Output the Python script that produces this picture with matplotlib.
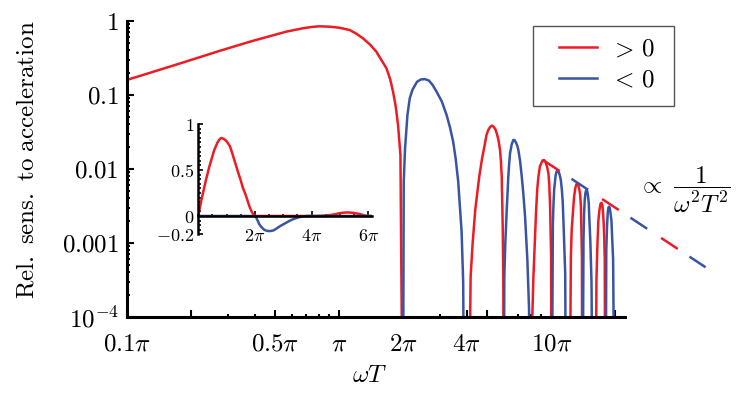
import matplotlib
matplotlib.use('Agg')
import matplotlib.pyplot as plt
from matplotlib.patches import Rectangle
from matplotlib.ticker import FixedLocator, FixedFormatter, NullFormatter, LogLocator, MultipleLocator

plt.rcParams['mathtext.fontset'] = 'cm'
plt.rcParams['font.family'] = 'serif'
plt.rcParams['lines.scale_dashes'] = False

RED = '#ED1C24'
BLUE = '#3A54A4'

# omega*T in units of pi, |relative sensitivity|
# (1e-6 marks a zero crossing, below the axis)
x1 = [0.1, 0.133, 0.189, 0.272, 0.390, 0.563, 0.674, 0.74, 0.808, 0.902, 1.0, 1.121, 1.2, 1.296,
      1.4, 1.499, 1.58, 1.672, 1.74, 1.797, 1.85, 1.897, 1.947, 2.0]
y1 = [0.160, 0.206, 0.282, 0.393, 0.537, 0.717, 0.797, 0.83, 0.848, 0.838, 0.812, 0.756, 0.68, 0.584,
      0.48, 0.385, 0.30, 0.230, 0.165, 0.111, 0.07, 0.0393, 0.0155, 1e-6]
x2 = [2.0, 2.018, 2.047, 2.101, 2.154, 2.22, 2.332, 2.43, 2.537, 2.65, 2.76, 2.882, 3.05, 3.214,
      3.33, 3.452, 3.55, 3.646, 3.783, 3.848, 3.9]
y2 = [1e-6, 0.00673, 0.0190, 0.0537, 0.0902, 0.118, 0.151, 0.162, 0.164, 0.157, 0.137, 0.111, 0.082, 0.0537,
      0.037, 0.0234, 0.0135, 0.00673, 0.00142, 0.0003, 1e-6]
x3 = [4.08, 4.172, 4.264, 4.386, 4.581, 4.72, 4.875, 4.96, 5.05, 5.15, 5.244, 5.31, 5.38, 5.46, 5.538,
      5.64, 5.741, 5.8, 5.848, 5.911, 5.95, 5.97]
y3 = [1e-6, 0.00035, 0.00099, 0.00279, 0.00787, 0.0137, 0.0222, 0.029, 0.0336, 0.0367, 0.0385, 0.0381,
      0.0366, 0.0344, 0.0304, 0.025, 0.0181, 0.0125, 0.00787, 0.00166, 0.00035, 1e-6]
x4 = [5.97, 6.015, 6.08, 6.173, 6.282, 6.34, 6.40, 6.52, 6.633, 6.73, 6.83, 6.92, 7.005, 7.14, 7.27,
      7.4, 7.536, 7.726, 7.87, 7.92]
y4 = [1e-6, 0.00035, 0.00099, 0.00279, 0.00787, 0.0118, 0.0163, 0.0216, 0.0247, 0.0245, 0.0227, 0.0207,
      0.0181, 0.0128, 0.00787, 0.0045, 0.00227, 0.00059, 0.000126, 1e-6]
x5 = [8.04, 8.15, 8.25, 8.497, 8.6, 8.71, 8.85, 9.0, 9.13, 9.267, 9.4, 9.5, 9.6, 9.71, 9.8, 9.89, 10.0, 10.05]
y5 = [1e-6, 0.0001, 0.00035, 0.00279, 0.0053, 0.00787, 0.0108, 0.0121, 0.0131, 0.0132, 0.0125, 0.0114,
      0.0103, 0.00875, 0.0062, 0.00310, 0.00065, 1e-6]
x6 = [10.05, 10.19, 10.26, 10.33, 10.5, 10.6, 10.71, 10.83, 10.95, 11.1, 11.24, 11.34, 11.44, 11.65, 11.78]
y6 = [1e-6, 0.00185, 0.0034, 0.0052, 0.0082, 0.0092, 0.00948, 0.0093, 0.0085, 0.0072, 0.0052, 0.0036,
      0.00185, 0.00039, 1e-6]
x7 = [12.2, 12.39, 12.5, 12.66, 12.83, 13.0, 13.15, 13.32, 13.45, 13.6, 13.72, 13.82, 13.97, 14.02]
y7 = [1e-6, 0.00065, 0.0015, 0.00252, 0.0042, 0.0055, 0.0062, 0.00627, 0.0060, 0.0052, 0.0043, 0.0031,
      0.00065, 1e-6]
x8 = [14.05, 14.21, 14.3, 14.4, 14.52, 14.64, 14.77, 14.9, 15.04, 15.17, 15.3, 15.5, 15.75]
y8 = [1e-6, 0.0011, 0.0025, 0.0038, 0.0048, 0.0052, 0.0051, 0.0045, 0.0035, 0.00185, 0.0011, 0.0003, 1e-6]
x9 = [16.2, 16.35, 16.5, 16.7, 16.9, 17.1, 17.29, 17.45, 17.6, 17.7, 17.81, 17.9, 18.0]
y9 = [1e-6, 0.0003, 0.00081, 0.002, 0.0028, 0.0034, 0.0035, 0.0032, 0.0024, 0.0018, 0.0011, 0.0006, 1e-6]
x10 = [18.05, 18.2, 18.35, 18.5, 18.62, 18.74, 18.9, 19.1, 19.25, 19.42, 19.6, 19.96]
y10 = [1e-6, 0.0008, 0.0017, 0.0026, 0.003, 0.0031, 0.003, 0.0024, 0.002, 0.0011, 0.0006, 1e-6]

pos_lobes = [(x1, y1), (x3, y3), (x5, y5), (x7, y7), (x9, y9)]
neg_lobes = [(x2, y2), (x4, y4), (x6, y6), (x8, y8), (x10, y10)]

# 1/(omega T)^2 guide line
env_x = [9.16, 53.5]
env_y = [0.0132, 0.00047]

xmajor = [0.1, 0.2, 0.5, 1, 2, 4, 5, 10, 20]
xmajor_labels = [r'$0.1\pi$', '', r'$0.5\pi$', r'$\pi$', r'$2\pi$', r'$4\pi$', '', r'$10\pi$', '']
xminor = [0.3, 0.4, 0.6, 0.7, 0.8, 0.9, 3, 6, 7, 8, 9]
ymajor = [1e-4, 1e-3, 1e-2, 1e-1, 1]
ymajor_labels = [r'$10^{-4}$', r'$0.001$', r'$0.01$', r'$0.1$', r'$1$']

fig = plt.figure(figsize=(7.47, 3.95), dpi=100)
ax = fig.add_axes([127/747, 1-317/395, 498/747, 296/395])

for x, y in pos_lobes:
    l_pos, = ax.plot(x, y, color=RED, lw=1.8)
for x, y in neg_lobes:
    l_neg, = ax.plot(x, y, color=BLUE, lw=1.8)

ax.plot(env_x, env_y, color=RED, lw=1.8, linestyle=(0, (14.4, 36.5)), clip_on=False)
ax.plot(env_x, env_y, color=BLUE, lw=1.8, linestyle=(26.4, (14.4, 36.5)), clip_on=False)

ax.set_xscale('log')
ax.set_yscale('log')
ax.set_xlim(0.1, 22.3)
ax.set_ylim(1e-4, 1)
for s in ['top', 'right']:
    ax.spines[s].set_visible(False)
for s in ['left', 'bottom']:
    ax.spines[s].set_linewidth(2.2)

ax.xaxis.set_major_locator(FixedLocator(xmajor))
ax.xaxis.set_major_formatter(FixedFormatter(xmajor_labels))
ax.xaxis.set_minor_locator(FixedLocator(xminor))
ax.xaxis.set_minor_formatter(NullFormatter())
ax.yaxis.set_major_locator(FixedLocator(ymajor))
ax.yaxis.set_major_formatter(FixedFormatter(ymajor_labels))
ax.yaxis.set_minor_locator(LogLocator(base=10, subs=range(2, 10)))
ax.yaxis.set_minor_formatter(NullFormatter())
ax.tick_params(which='both', direction='in', width=1.5, labelsize=18)
ax.tick_params(which='major', length=5)
ax.tick_params(which='minor', length=2.5)
ax.tick_params(axis='x', pad=11)
ax.tick_params(axis='y', pad=6)

fig.text(27/747, 1-160/395, r'$\mathrm{Rel.\ sens.\ to\ acceleration}$', rotation=90,
         ha='center', va='center', size=18)
fig.text(370/747, 1-375/395, r'$\omega T$', ha='center', va='center', size=18)
fig.text(638/747, 1-190/395, r'$\propto\ \dfrac{1}{\omega^2T^2}$', ha='left', va='center', size=18)

# legend entries without frame, box drawn separately
leg = ax.legend([l_pos, l_neg], [r'$>\,0$', r'$<\,0$'], loc='upper left',
                bbox_to_anchor=(559/747, 1-38/395), bbox_transform=fig.transFigure,
                frameon=False, fontsize=18, handlelength=1.5, handletextpad=0.55,
                borderpad=0, labelspacing=0.3, borderaxespad=0)
fig.add_artist(Rectangle((533/747, 1-106/395), 141/747, 80/395, transform=fig.transFigure,
                         fill=False, edgecolor='#555555', lw=1.0))

# inset, linear scale
ins = fig.add_axes([198.3/747, 1-234.4/395, 173.4/747, 110.4/395])
ins.patch.set_alpha(0)
red_x = [0] + x1 + x3 + [6.12]
red_y = [0] + y1 + y3 + [0]
blue_x = [0] + x2 + [6.12]
blue_y = [0] + [-v for v in y2] + [0]
ins.plot(red_x, red_y, color=RED, lw=1.8)
ins.plot(blue_x, blue_y, color=BLUE, lw=1.8)
ins.set_xlim(0, 6.12)
ins.set_ylim(-0.2, 1)
ins.spines['top'].set_visible(False)
ins.spines['right'].set_visible(False)
ins.spines['bottom'].set_position(('data', 0))
ins.spines['left'].set_linewidth(1.8)
ins.spines['bottom'].set_linewidth(1.8)
ins.xaxis.set_major_locator(FixedLocator([2, 4, 6]))
ins.xaxis.set_major_formatter(FixedFormatter([r'$2\pi$', r'$4\pi$', r'$6\pi$']))
ins.xaxis.set_minor_locator(MultipleLocator(0.5))
ins.yaxis.set_major_locator(FixedLocator([-0.2, 0, 0.5, 1]))
ins.yaxis.set_major_formatter(FixedFormatter([r'$-0.2$', r'$0$', r'$0.5$', r'$1$']))
ins.yaxis.set_minor_locator(MultipleLocator(0.05))
ins.tick_params(which='both', direction='in', width=1.2, labelsize=13)
ins.tick_params(which='major', length=3.5)
ins.tick_params(which='minor', length=1.8)
ins.tick_params(axis='x', pad=8)
ins.tick_params(axis='y', pad=3)

fig.savefig('out.png', dpi=100)
